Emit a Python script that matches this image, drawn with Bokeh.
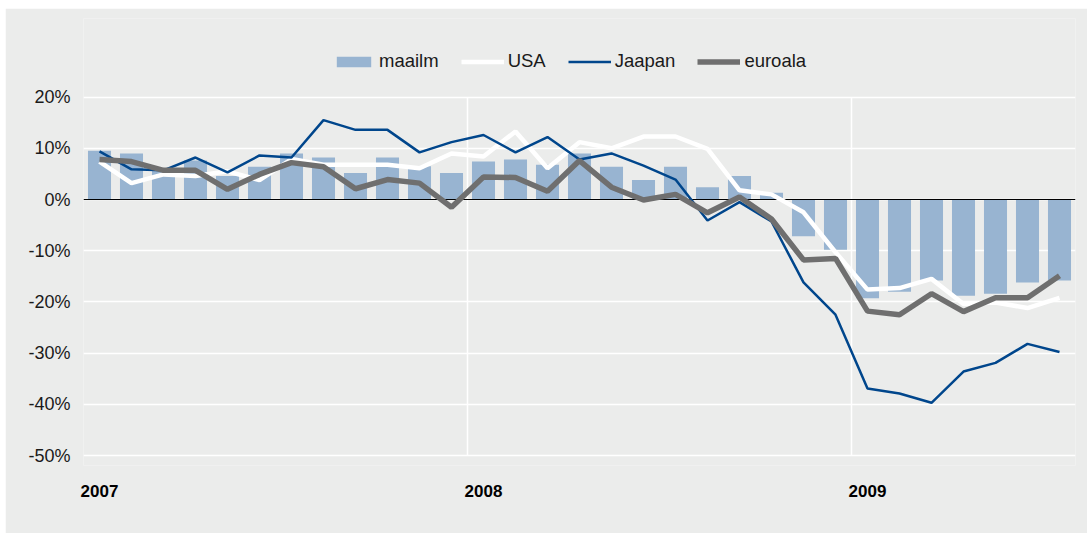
from bokeh.plotting import figure
from bokeh.models import FixedTicker, Legend, LegendItem
from bokeh.embed import file_html
from bokeh.resources import INLINE

# Monthly data, Jan 2007 .. Jul 2009 (percent)
months = list(range(31))
maailm = [9.5, 9.0, 5.8, 7.6, 4.6, 6.4, 9.0, 8.2, 5.2, 8.2, 6.5, 5.2,
          7.4, 7.8, 6.8, 9.0, 6.4, 3.8, 6.4, 2.4, 4.6, 1.3,
          -7.2, -9.8, -19.3, -18.0, -15.8, -18.8, -18.4, -16.2, -15.8]
usa = [7.4, 3.2, 4.9, 4.6, 5.5, 3.8, 7.9, 6.8, 6.8, 6.8, 6.1, 9.0,
       8.4, 13.3, 6.1, 11.2, 10.0, 12.3, 12.3, 9.9, 1.8, 1.0,
       -2.5, -10.3, -17.6, -17.3, -15.5, -20.4, -20.1, -21.2, -19.2]
jaapan = [9.4, 5.9, 5.7, 8.2, 5.3, 8.6, 8.2, 15.5, 13.6, 13.6, 9.2, 11.2,
          12.6, 9.2, 12.2, 7.8, 9.0, 6.6, 3.9, -4.1, -0.5, -4.3,
          -16.2, -22.5, -36.9, -37.9, -39.7, -33.6, -31.9, -28.2, -29.8]
euroala = [7.8, 7.4, 5.7, 5.7, 2.0, 4.9, 7.2, 6.4, 2.1, 3.9, 3.2, -1.5,
           4.4, 4.3, 1.6, 7.6, 2.4, -0.1, 1.0, -2.6, 0.5, -3.8,
           -11.8, -11.5, -21.8, -22.5, -18.4, -21.9, -19.2, -19.2, -14.9]

year_ticks = [0, 12, 24]
year_labels = ["2007", "2008", "2009"]
year_bounds = [11.5, 23.5]
y_ticks = [20, 10, 0, -10, -20, -30, -40, -50]
y_labels = ["20%", "10%", "0%", "-10%", "-20%", "-30%", "-40%", "-50%"]

BG = "#ebeceb"
BAR = "#98b4d1"
JP = "#00468c"
EU = "#6f6f6f"
FONT = "Liberation Sans"

x_start, x_end = -0.5, 30.5
p = figure(width=1082, height=525, x_range=(x_start, x_end), y_range=(-51.95, 35.35),
           output_backend="svg", toolbar_location=None,
           min_border_left=78, min_border_right=12, min_border_top=10, min_border_bottom=68)
p.margin = (8, 0, 0, 5)
p.background_fill_color = BG
p.border_fill_color = BG
p.outline_line_color = None

# axes
p.yaxis.ticker = FixedTicker(ticks=y_ticks)
p.yaxis.major_label_overrides = {t: l for t, l in zip(y_ticks, y_labels)}
p.xaxis.ticker = FixedTicker(ticks=year_ticks)
p.xaxis.major_label_overrides = {t: l for t, l in zip(year_ticks, year_labels)}
for ax in (p.xaxis, p.yaxis):
    ax.axis_line_color = None
    ax.major_tick_line_color = None
    ax.minor_tick_line_color = None
    ax.major_tick_out = 0
    ax.major_tick_in = 0
    ax.major_label_text_font = FONT
    ax.major_label_text_font_size = "18px"
    ax.major_label_text_color = "#1a1a1a"
p.yaxis.major_label_standoff = 13
p.xaxis.major_label_standoff = 19
p.xaxis.major_label_text_font_style = "bold"
p.xaxis.major_label_text_font_size = "17px"
p.xaxis.major_label_text_color = "#000000"

p.xgrid.visible = False
p.ygrid.ticker = FixedTicker(ticks=y_ticks)
p.ygrid.grid_line_color = "white"
p.ygrid.grid_line_width = 1.5

# year separators
p.segment(x0=year_bounds, y0=[y_ticks[-1]] * len(year_bounds), x1=year_bounds,
          y1=[y_ticks[0]] * len(year_bounds), line_color="white", line_width=1.5)

bars = p.vbar(x=months, top=maailm, bottom=0, width=0.72, fill_color=BAR, line_color=None)
p.segment(x0=[x_start], y0=[0], x1=[x_end], y1=[0], line_color="black", line_width=1.2)
l_usa = p.line(months, usa, line_color="white", line_width=4.5)
l_jp = p.line(months, jaapan, line_color=JP, line_width=2.5)
l_eu = p.line(months, euroala, line_color=EU, line_width=5.5)

legend = Legend(items=[LegendItem(label="maailm", renderers=[bars]),
                       LegendItem(label="USA", renderers=[l_usa]),
                       LegendItem(label="Jaapan", renderers=[l_jp]),
                       LegendItem(label="euroala", renderers=[l_eu])],
                orientation="horizontal", location=(249, 393))
legend.padding = 0
legend.margin = 0
legend.spacing = 22
legend.glyph_width = 43
legend.glyph_height = 13
legend.label_standoff = 4
legend.label_text_font = FONT
legend.label_text_font_size = "18.5px"
legend.label_text_color = "#1a1a1a"
legend.border_line_color = None
legend.background_fill_alpha = 0
legend.inactive_fill_alpha = 0
p.add_layout(legend)

open("out.html", "w").write(file_html(p, INLINE))
